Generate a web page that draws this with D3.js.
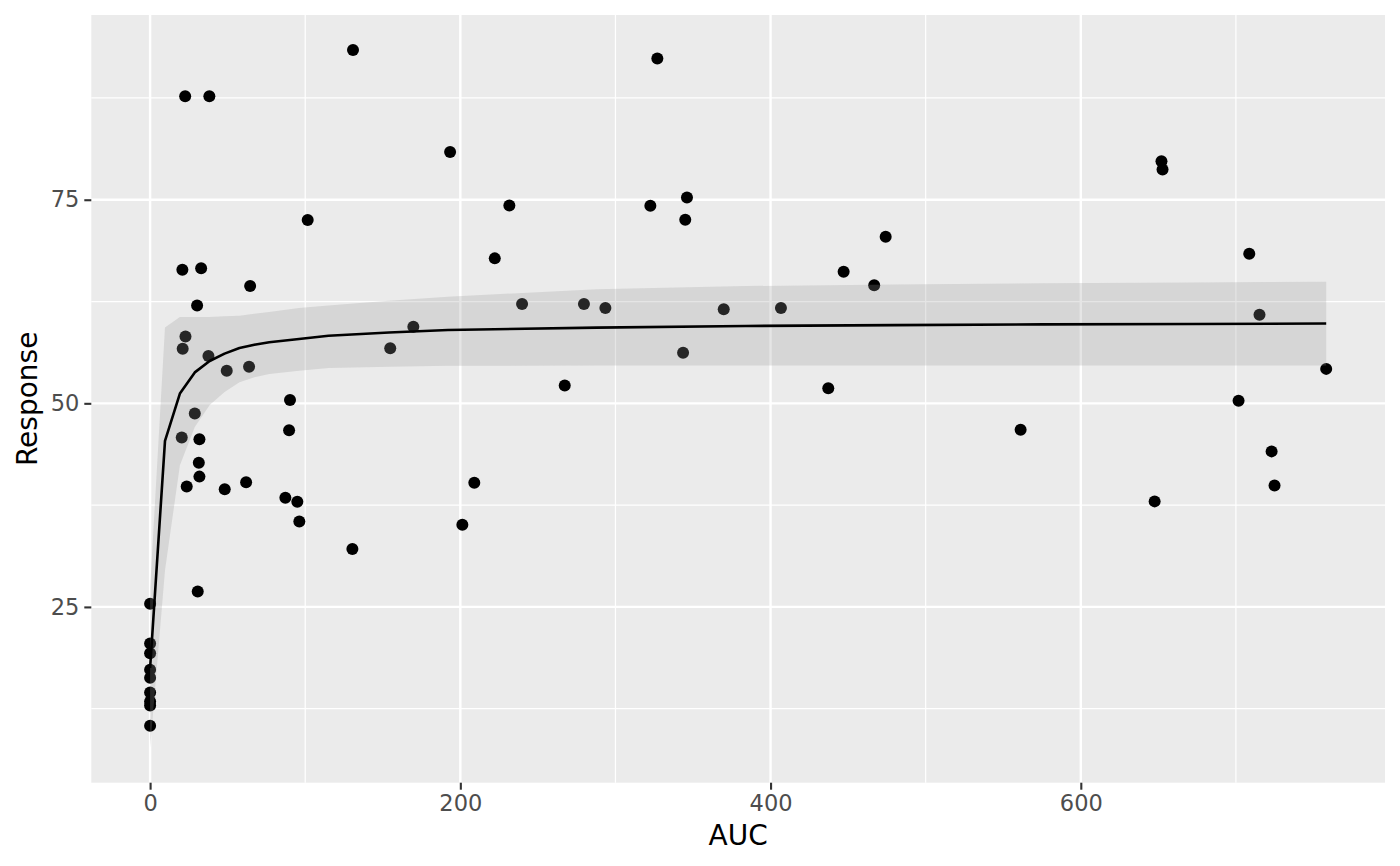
<!DOCTYPE html>
<html>
<head>
<meta charset="utf-8">
<script src="https://cdn.jsdelivr.net/npm/d3@7"></script>
<style>
  body { margin: 0; background: #ffffff; }
  text { font-family: "DejaVu Sans", sans-serif; }
</style>
</head>
<body>
<div id="chart"></div>
<script>
// observed points
var aucValues = [
    0, 0, 0, 0, 0, 0, 0, 0, 0,
    22.6, 38.2, 130.8, 193.4, 231.6, 101.6, 222.2, 20.8, 32.9, 64.5,
    30.3, 239.8, 169.7, 22.8, 21.0, 37.6, 49.4, 63.8, 90.2, 28.8,
    20.4, 31.8, 89.6, 31.4, 31.8, 23.6, 48.1, 61.9, 87.2, 94.9,
    96.2, 30.7, 279.7, 293.5, 369.8, 154.8, 343.6, 267.3, 209.0, 201.3,
    130.4, 327.0, 322.5, 346.1, 345.0, 474.2, 447.1, 466.8, 406.7, 437.2,
    652.0, 652.7, 708.6, 715.2, 758.2, 701.7, 561.2, 723.0, 724.9, 647.6
];
var responseValues = [
    25.4, 20.5, 19.3, 17.3, 16.3, 14.5, 13.4, 12.9, 10.4,
    87.7, 87.7, 93.4, 80.85, 74.3, 72.5, 67.8, 66.4, 66.6, 64.4,
    62.0, 62.2, 59.4, 58.2, 56.7, 55.8, 54.0, 54.5, 50.4, 48.75,
    45.8, 45.6, 46.7, 42.7, 41.0, 39.8, 39.45, 40.3, 38.4, 37.9,
    35.5, 26.9, 62.2, 61.7, 61.55, 56.76, 56.2, 52.2, 40.25, 35.1,
    32.1, 92.33, 74.26, 75.28, 72.54, 70.45, 66.15, 64.5, 61.7, 51.84,
    79.74, 78.72, 68.36, 60.87, 54.23, 50.33, 46.77, 44.1, 39.92, 37.96
];

// fitted curve and its band
var fitAuc = [0, 9.6, 19.2, 28.8, 38.4, 48, 57.6, 67.2, 76.8, 96, 115, 154, 192, 288, 384, 480, 576, 672, 758.2];
var fitResponse = [17.5, 45.4, 51.2, 53.8, 55.2, 56.1, 56.8, 57.2, 57.5, 57.9, 58.3, 58.7, 59.0, 59.3, 59.5, 59.6, 59.7, 59.75, 59.8];
var fitUpper = [27.3, 59.3, 60.6, 60.6, 60.6, 60.7, 60.75, 61.0, 61.2, 61.7, 62.0, 62.6, 63.1, 64.0, 64.4, 64.6, 64.75, 64.85, 64.92];
var fitLower = [7.7, 29.5, 42.4, 47.1, 49.8, 51.4, 52.6, 53.2, 53.6, 54.0, 54.35, 54.5, 54.6, 54.65, 54.65, 54.65, 54.65, 54.65, 54.63];

var xMajorTicks = [0, 200, 400, 600];
var xMinorTicks = [100, 300, 500, 700];
var yMajorTicks = [25, 50, 75];
var yMinorTicks = [12.5, 37.5, 62.5, 87.5];

var svgWidth = 1400;
var svgHeight = 866;

var margin = {
    top: 15,
    right: 15,
    bottom: 83.3,
    left: 91.3
};

var width = svgWidth - margin.left - margin.right;
var height = svgHeight - margin.top - margin.bottom;

var points = aucValues.map(function (a, i) {
    return { auc: a, response: responseValues[i] };
});
var fit = fitAuc.map(function (a, i) {
    return { auc: a, response: fitResponse[i], upper: fitUpper[i], lower: fitLower[i] };
});

var svg = d3.select("#chart")
    .append("svg")
    .attr("width", svgWidth)
    .attr("height", svgHeight);

svg.append("rect")
    .attr("width", svgWidth)
    .attr("height", svgHeight)
    .attr("fill", "#ffffff");

var chartGroup = svg.append("g")
    .attr("transform", `translate(${margin.left}, ${margin.top})`);

// ggplot style 5% expansion on both axes
var xExtent = d3.extent(aucValues.concat(fitAuc));
var yExtent = d3.extent(responseValues.concat(fitLower, fitUpper));
var xPad = (xExtent[1] - xExtent[0]) * 0.05;
var yPad = (yExtent[1] - yExtent[0]) * 0.05;

var xLinearScale = d3.scaleLinear()
    .domain([xExtent[0] - xPad, xExtent[1] + xPad])
    .range([0, width]);

var yLinearScale = d3.scaleLinear()
    .domain([yExtent[0] - yPad, yExtent[1] + yPad])
    .range([height, 0]);

// panel background
chartGroup.append("rect")
    .attr("width", width)
    .attr("height", height)
    .attr("fill", "#ebebeb");

// grid lines
chartGroup.selectAll(".xminor")
    .data(xMinorTicks)
    .enter()
    .append("line")
    .attr("x1", d => xLinearScale(d))
    .attr("x2", d => xLinearScale(d))
    .attr("y1", 0)
    .attr("y2", height)
    .attr("stroke", "#ffffff")
    .attr("stroke-width", 1.2);

chartGroup.selectAll(".yminor")
    .data(yMinorTicks)
    .enter()
    .append("line")
    .attr("x1", 0)
    .attr("x2", width)
    .attr("y1", d => yLinearScale(d))
    .attr("y2", d => yLinearScale(d))
    .attr("stroke", "#ffffff")
    .attr("stroke-width", 1.2);

chartGroup.selectAll(".xmajor")
    .data(xMajorTicks)
    .enter()
    .append("line")
    .attr("x1", d => xLinearScale(d))
    .attr("x2", d => xLinearScale(d))
    .attr("y1", 0)
    .attr("y2", height)
    .attr("stroke", "#ffffff")
    .attr("stroke-width", 2.4);

chartGroup.selectAll(".ymajor")
    .data(yMajorTicks)
    .enter()
    .append("line")
    .attr("x1", 0)
    .attr("x2", width)
    .attr("y1", d => yLinearScale(d))
    .attr("y2", d => yLinearScale(d))
    .attr("stroke", "#ffffff")
    .attr("stroke-width", 2.4);

// points
chartGroup.selectAll("circle")
    .data(points)
    .enter()
    .append("circle")
    .attr("cx", d => xLinearScale(d.auc))
    .attr("cy", d => yLinearScale(d.response))
    .attr("r", 6)
    .attr("fill", "#000000");

// confidence band
var band = d3.area()
    .x(d => xLinearScale(d.auc))
    .y0(d => yLinearScale(d.lower))
    .y1(d => yLinearScale(d.upper));

chartGroup.append("path")
    .datum(fit)
    .attr("d", band)
    .attr("fill", "#999999")
    .attr("fill-opacity", 0.25);

// fitted line
var fitLine = d3.line()
    .x(d => xLinearScale(d.auc))
    .y(d => yLinearScale(d.response));

chartGroup.append("path")
    .datum(fit)
    .attr("d", fitLine)
    .attr("fill", "none")
    .attr("stroke", "#000000")
    .attr("stroke-width", 2.6)
    .attr("stroke-linejoin", "round");

// axes
var bottomAxis = d3.axisBottom(xLinearScale)
    .tickValues(xMajorTicks)
    .tickSize(7)
    .tickPadding(5);

var leftAxis = d3.axisLeft(yLinearScale)
    .tickValues(yMajorTicks)
    .tickSize(7)
    .tickPadding(5);

var xAxis = chartGroup.append("g")
    .attr("transform", `translate(0, ${height})`)
    .call(bottomAxis);

var yAxis = chartGroup.append("g")
    .call(leftAxis);

[xAxis, yAxis].forEach(function (ax) {
    ax.select(".domain").remove();
    ax.selectAll(".tick line")
        .attr("stroke", "#333333")
        .attr("stroke-width", 2.1);
    ax.selectAll(".tick text")
        .attr("fill", "#4d4d4d")
        .style("font-size", "22.5px")
        .style("font-family", "DejaVu Sans, sans-serif");
});

// axis titles
chartGroup.append("text")
    .attr("x", width / 2)
    .attr("y", height + 62)
    .attr("text-anchor", "middle")
    .attr("fill", "#000000")
    .style("font-size", "28px")
    .text("AUC");

chartGroup.append("text")
    .attr("transform", "rotate(-90)")
    .attr("x", 0 - (height / 2))
    .attr("y", 0 - margin.left + 37)
    .attr("text-anchor", "middle")
    .attr("fill", "#000000")
    .style("font-size", "28px")
    .text("Response");
</script>
</body>
</html>
